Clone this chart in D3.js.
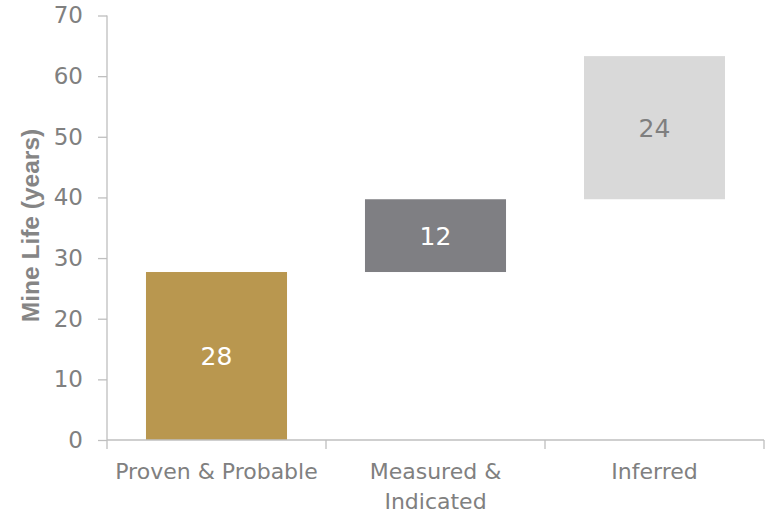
<!DOCTYPE html>
<html>
<head>
<meta charset="utf-8">
<script src="https://cdn.jsdelivr.net/npm/d3@7/dist/d3.min.js"></script>
<style>
  html, body { margin: 0; padding: 0; background: #ffffff; }
  svg { display: block; }
</style>
</head>
<body>
<svg id="chart" width="765" height="514"></svg>
<script>
// ---- data ----
const categories = ["Proven & Probable", "Measured & Indicated", "Inferred"];
const categoryLines = [["Proven & Probable"], ["Measured &", "Indicated"], ["Inferred"]];
const baseValues = [0, 27.7, 39.7];
const barValues = [27.7, 12.0, 23.6];
const barColors = ["#B9974F", "#7F7F83", "#D9D9D9"];
const labelColors = ["#FFFFFF", "#FFFFFF", "#7F7F7F"];
const yTicks = [0, 10, 20, 30, 40, 50, 60, 70];
const yLabel = "Mine Life (years)";

// ---- layout ----
const svg = d3.select("#chart");
const plotLeft = 107, plotRight = 764, plotTop = 15.5, plotBottom = 440;
const font = "'DejaVu Sans', sans-serif";
const textColor = "#808080";
const axisColor = "#BFBFBF";

const y = d3.scaleLinear().domain([0, 70]).range([plotBottom, plotTop]);
const x = d3.scaleBand().domain(categories).range([plotLeft, plotRight])
  .paddingInner(0.356).paddingOuter(0.178);

// bars
svg.append("g").selectAll("rect")
  .data(categories)
  .join("rect")
  .attr("x", d => x(d))
  .attr("width", x.bandwidth())
  .attr("y", (d, i) => y(baseValues[i] + barValues[i]))
  .attr("height", (d, i) => y(baseValues[i]) - y(baseValues[i] + barValues[i]))
  .attr("fill", (d, i) => barColors[i]);

// bar labels
svg.append("g").selectAll("text")
  .data(categories)
  .join("text")
  .attr("x", d => x(d) + x.bandwidth() / 2)
  .attr("y", (d, i) => y(baseValues[i] + barValues[i] / 2))
  .attr("dy", "0.36em")
  .attr("text-anchor", "middle")
  .attr("font-family", font)
  .attr("font-size", 25)
  .attr("fill", (d, i) => labelColors[i])
  .text((d, i) => d3.format(".0f")(barValues[i]));

// y axis
const yAxis = svg.append("g")
  .attr("transform", `translate(${plotLeft},0)`)
  .call(d3.axisLeft(y).tickValues(yTicks).tickSize(9).tickPadding(15));
yAxis.select(".domain").remove();
yAxis.selectAll(".tick line").attr("stroke", axisColor).attr("stroke-width", 1.3);
yAxis.selectAll(".tick text")
  .attr("font-family", font).attr("font-size", 23).attr("fill", textColor);
svg.append("line")
  .attr("x1", plotLeft).attr("x2", plotLeft)
  .attr("y1", y(70)).attr("y2", plotBottom + 9)
  .attr("stroke", axisColor).attr("stroke-width", 1.3);

// x axis
svg.append("line")
  .attr("x1", plotLeft).attr("x2", plotRight)
  .attr("y1", plotBottom).attr("y2", plotBottom)
  .attr("stroke", axisColor).attr("stroke-width", 1.3);
const step = x.step();
const boundaries = categories.map(c => x(c) + x.bandwidth() / 2 + step / 2);
svg.append("g").selectAll("line")
  .data(boundaries)
  .join("line")
  .attr("x1", d => d).attr("x2", d => d)
  .attr("y1", plotBottom).attr("y2", plotBottom + 9)
  .attr("stroke", axisColor).attr("stroke-width", 1.3);

// x labels
const xl = svg.append("g").selectAll("text")
  .data(categories)
  .join("text")
  .attr("x", d => x(d) + x.bandwidth() / 2)
  .attr("y", 479)
  .attr("text-anchor", "middle")
  .attr("font-family", font)
  .attr("font-size", 22)
  .attr("fill", textColor);
xl.selectAll("tspan")
  .data((d, i) => categoryLines[i])
  .join("tspan")
  .attr("x", function () { return d3.select(this.parentNode).attr("x"); })
  .attr("dy", (d, j) => j === 0 ? 0 : 30)
  .text(d => d);

// y label
svg.append("text")
  .attr("transform", "rotate(-90)")
  .attr("x", -225.5)
  .attr("y", 39.3)
  .attr("text-anchor", "middle")
  .attr("font-family", "'Liberation Sans', Arial, sans-serif")
  .attr("font-weight", "bold")
  .attr("font-size", 24.5)
  .attr("fill", "#858585")
  .text(yLabel);
</script>
</body>
</html>
